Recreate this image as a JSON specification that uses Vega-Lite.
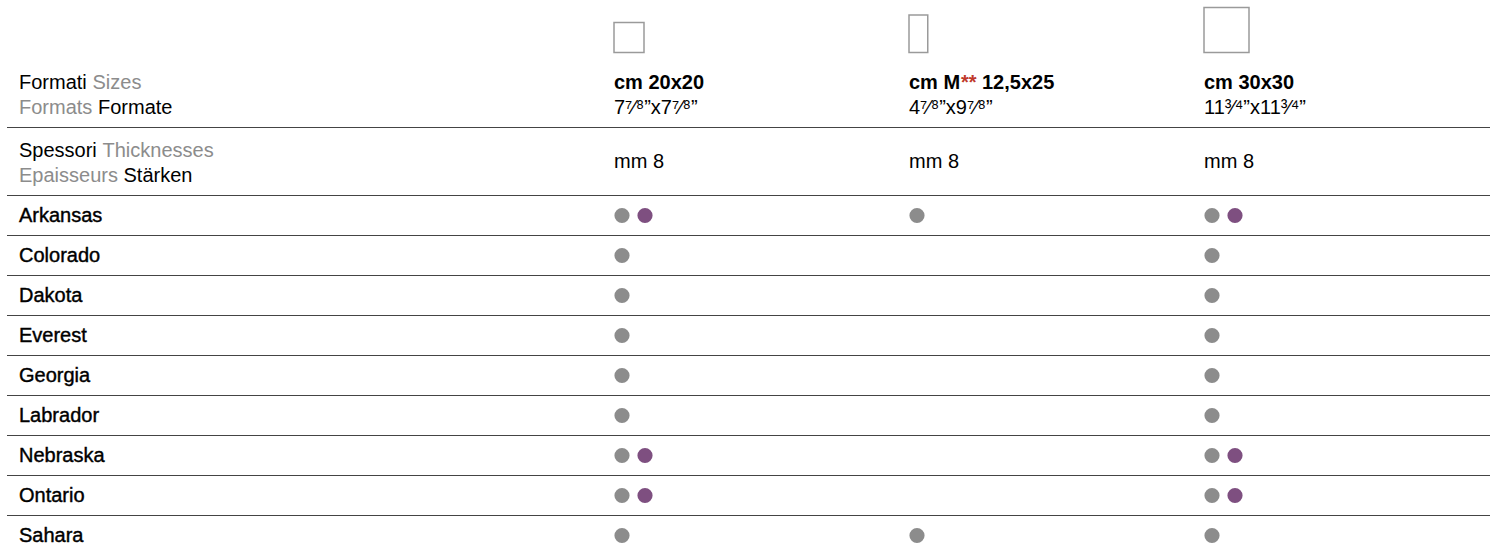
{
  "$schema": "https://vega.github.io/schema/vega-lite/v6.json",
  "width": 1483,
  "height": 553,
  "autosize": {"type": "none"},
  "padding": {"left": 7, "right": 8, "top": 0, "bottom": 0},
  "background": "white",
  "config": {
    "view": {"stroke": null},
    "text": {"font": "Liberation Sans", "fontSize": 20}
  },
  "datasets": {
    "headers": [
      {"row": "sizes", "it": "Formati", "en": "Sizes", "fr": "Formats", "de": "Formate"},
      {"row": "thickness", "it": "Spessori", "en": "Thicknesses", "fr": "Epaisseurs", "de": "Stärken"}
    ],
    "formats": [
      {"format": "cm 20x20", "name": "cm 20x20", "inches": "7⁷⁄⁸”x7⁷⁄⁸”", "thickness": "mm 8", "width_cm": 20, "height_cm": 20, "ratio": "1:1"},
      {"format": "cm M** 12,5x25", "name": "cm M", "footnote": "**", "dims": "12,5x25", "inches": "4⁷⁄⁸”x9⁷⁄⁸”", "thickness": "mm 8", "width_cm": 12.5, "height_cm": 25, "ratio": "1:2"},
      {"format": "cm 30x30", "name": "cm 30x30", "inches": "11³⁄⁴”x11³⁄⁴”", "thickness": "mm 8", "width_cm": 30, "height_cm": 30, "ratio": "1:1"}
    ],
    "products": [
      {"product": "Arkansas"}, {"product": "Colorado"}, {"product": "Dakota"}, {"product": "Everest"}, {"product": "Georgia"},
      {"product": "Labrador"}, {"product": "Nebraska"}, {"product": "Ontario"}, {"product": "Sahara"}
    ],
    "availability": [
      {"product": "Arkansas", "format": "cm 20x20", "finish": "grey"},
      {"product": "Arkansas", "format": "cm 20x20", "finish": "purple"},
      {"product": "Arkansas", "format": "cm M** 12,5x25", "finish": "grey"},
      {"product": "Arkansas", "format": "cm 30x30", "finish": "grey"},
      {"product": "Arkansas", "format": "cm 30x30", "finish": "purple"},
      {"product": "Colorado", "format": "cm 20x20", "finish": "grey"},
      {"product": "Colorado", "format": "cm 30x30", "finish": "grey"},
      {"product": "Dakota", "format": "cm 20x20", "finish": "grey"},
      {"product": "Dakota", "format": "cm 30x30", "finish": "grey"},
      {"product": "Everest", "format": "cm 20x20", "finish": "grey"},
      {"product": "Everest", "format": "cm 30x30", "finish": "grey"},
      {"product": "Georgia", "format": "cm 20x20", "finish": "grey"},
      {"product": "Georgia", "format": "cm 30x30", "finish": "grey"},
      {"product": "Labrador", "format": "cm 20x20", "finish": "grey"},
      {"product": "Labrador", "format": "cm 30x30", "finish": "grey"},
      {"product": "Nebraska", "format": "cm 20x20", "finish": "grey"},
      {"product": "Nebraska", "format": "cm 20x20", "finish": "purple"},
      {"product": "Nebraska", "format": "cm 30x30", "finish": "grey"},
      {"product": "Nebraska", "format": "cm 30x30", "finish": "purple"},
      {"product": "Ontario", "format": "cm 20x20", "finish": "grey"},
      {"product": "Ontario", "format": "cm 20x20", "finish": "purple"},
      {"product": "Ontario", "format": "cm 30x30", "finish": "grey"},
      {"product": "Ontario", "format": "cm 30x30", "finish": "purple"},
      {"product": "Sahara", "format": "cm 20x20", "finish": "grey"},
      {"product": "Sahara", "format": "cm M** 12,5x25", "finish": "grey"},
      {"product": "Sahara", "format": "cm 30x30", "finish": "grey"}
    ]
  },
  "layer": [
    {
      "data": {"name": "headers"},
      "encoding": {
        "x": {"datum": "label", "type": "nominal", "bandPosition": 0, "axis": null,
              "scale": {"type": "band", "domain": ["label"], "range": [12, 597], "paddingInner": 0, "paddingOuter": 0}},
        "y": {"field": "row", "type": "nominal", "bandPosition": 0, "axis": null,
              "scale": {"type": "band", "domain": ["sizes", "thickness"], "range": [59.5, 195.5], "paddingInner": 0, "paddingOuter": 0}}
      },
      "layer": [
        {"mark": {"type": "text", "align": "left", "baseline": "alphabetic", "dy": 29, "color": "#000000"},
         "encoding": {"text": {"field": "it"}}},
        {"mark": {"type": "text", "align": "left", "baseline": "alphabetic", "dy": 54, "color": "#8c8c8c"},
         "encoding": {"text": {"field": "fr"}}},
        {"transform": [{"filter": {"field": "row", "equal": "sizes"}}],
         "mark": {"type": "text", "align": "left", "baseline": "alphabetic", "dy": 29, "dx": 73.5, "color": "#8c8c8c"},
         "encoding": {"text": {"field": "en"}}},
        {"transform": [{"filter": {"field": "row", "equal": "thickness"}}],
         "mark": {"type": "text", "align": "left", "baseline": "alphabetic", "dy": 29, "dx": 83.5, "color": "#8c8c8c"},
         "encoding": {"text": {"field": "en"}}},
        {"transform": [{"filter": {"field": "row", "equal": "sizes"}}],
         "mark": {"type": "text", "align": "left", "baseline": "alphabetic", "dy": 54, "dx": 79, "color": "#000000"},
         "encoding": {"text": {"field": "de"}}},
        {"transform": [{"filter": {"field": "row", "equal": "thickness"}}],
         "mark": {"type": "text", "align": "left", "baseline": "alphabetic", "dy": 54, "dx": 104.5, "color": "#000000"},
         "encoding": {"text": {"field": "de"}}},
        {"transform": [{"filter": {"field": "row", "equal": "thickness"}}],
         "mark": {"type": "rule", "color": "#444444", "strokeWidth": 1},
         "encoding": {"x": null}}
      ]
    },
    {
      "data": {"name": "formats"},
      "encoding": {
        "x": {"field": "format", "type": "nominal", "bandPosition": 0, "axis": null,
              "scale": {"type": "band", "domain": ["cm 20x20", "cm M** 12,5x25", "cm 30x30"], "range": [607, 1492], "paddingInner": 0, "paddingOuter": 0}}
      },
      "layer": [
        {"mark": {"type": "point", "filled": false, "fill": "#ffffff", "stroke": "#9a9a9a", "strokeWidth": 1.5, "opacity": 1, "yOffset": -7},
         "encoding": {
           "y": {"datum": "sizes", "type": "nominal", "bandPosition": 0, "axis": null,
                 "scale": {"type": "band", "domain": ["sizes", "thickness"], "range": [59.5, 195.5], "paddingInner": 0, "paddingOuter": 0}},
           "shape": {"field": "ratio", "type": "nominal", "legend": null,
                     "scale": {"domain": ["1:1", "1:2"], "range": ["M0,0H2V-2H0Z", "M0,0H1V-2H0Z"]}},
           "size": {"field": "height_cm", "type": "quantitative", "legend": null,
                    "scale": {"type": "pow", "exponent": 2, "domain": [0, 30], "range": [0, 2025]}}
         }},
        {"mark": {"type": "text", "align": "left", "baseline": "alphabetic", "dy": 29, "fontWeight": "bold", "color": "#000000"},
         "encoding": {
           "y": {"datum": "sizes", "type": "nominal", "bandPosition": 0},
           "text": {"field": "name"}
         }},
        {"transform": [{"filter": "isValid(datum.footnote)"}],
         "mark": {"type": "text", "align": "left", "baseline": "alphabetic", "dy": 29, "dx": 52, "fontWeight": "bold", "color": "#c0392b"},
         "encoding": {
           "y": {"datum": "sizes", "type": "nominal", "bandPosition": 0},
           "text": {"field": "footnote"}
         }},
        {"transform": [{"filter": "isValid(datum.dims)"}],
         "mark": {"type": "text", "align": "left", "baseline": "alphabetic", "dy": 29, "dx": 73, "fontWeight": "bold", "color": "#000000"},
         "encoding": {
           "y": {"datum": "sizes", "type": "nominal", "bandPosition": 0},
           "text": {"field": "dims"}
         }},
        {"mark": {"type": "text", "align": "left", "baseline": "alphabetic", "dy": 54, "color": "#000000"},
         "encoding": {
           "y": {"datum": "sizes", "type": "nominal", "bandPosition": 0},
           "text": {"field": "inches"}
         }},
        {"mark": {"type": "text", "align": "left", "baseline": "middle", "color": "#000000"},
         "encoding": {
           "y": {"datum": "thickness", "type": "nominal", "bandPosition": 0.5},
           "text": {"field": "thickness"}
         }}
      ]
    },
    {
      "data": {"name": "products"},
      "encoding": {
        "x": {"datum": "label", "type": "nominal", "bandPosition": 0, "axis": null,
              "scale": {"type": "band", "domain": ["label"], "range": [12, 597], "paddingInner": 0, "paddingOuter": 0}},
        "y": {"field": "product", "type": "nominal", "axis": null,
              "scale": {"type": "band", "domain": ["Arkansas", "Colorado", "Dakota", "Everest", "Georgia", "Labrador", "Nebraska", "Ontario", "Sahara"], "range": [195.5, 555.5], "paddingInner": 0, "paddingOuter": 0}}
      },
      "layer": [
        {"mark": {"type": "text", "align": "left", "baseline": "middle", "color": "#000000", "stroke": "#000000", "strokeWidth": 0.4},
         "encoding": {"text": {"field": "product"}, "y": {"field": "product", "type": "nominal", "bandPosition": 0.5}}},
        {"mark": {"type": "rule", "color": "#444444", "strokeWidth": 1},
         "encoding": {"x": null, "y": {"field": "product", "type": "nominal", "bandPosition": 0}}}
      ]
    },
    {
      "data": {"name": "availability"},
      "encoding": {
        "x": {"field": "format", "type": "nominal", "bandPosition": 0, "axis": null,
              "scale": {"type": "band", "domain": ["cm 20x20", "cm M** 12,5x25", "cm 30x30"], "range": [607, 1492], "paddingInner": 0, "paddingOuter": 0}},
        "y": {"field": "product", "type": "nominal", "bandPosition": 0.5, "axis": null,
              "scale": {"type": "band", "domain": ["Arkansas", "Colorado", "Dakota", "Everest", "Georgia", "Labrador", "Nebraska", "Ontario", "Sahara"], "range": [195.5, 555.5], "paddingInner": 0, "paddingOuter": 0}},
        "color": {"field": "finish", "type": "nominal", "legend": null,
                  "scale": {"domain": ["grey", "purple"], "range": ["#8c8c8c", "#7e4f80"]}}
      },
      "layer": [
        {"transform": [{"filter": {"field": "finish", "equal": "grey"}}],
         "mark": {"type": "point", "shape": "circle", "filled": true, "size": 230, "opacity": 1, "xOffset": 8}},
        {"transform": [{"filter": {"field": "finish", "equal": "purple"}}],
         "mark": {"type": "point", "shape": "circle", "filled": true, "size": 230, "opacity": 1, "xOffset": 31}}
      ]
    }
  ],
  "resolve": {"scale": {"x": "independent", "y": "independent", "color": "independent", "shape": "independent", "size": "independent"}}
}
